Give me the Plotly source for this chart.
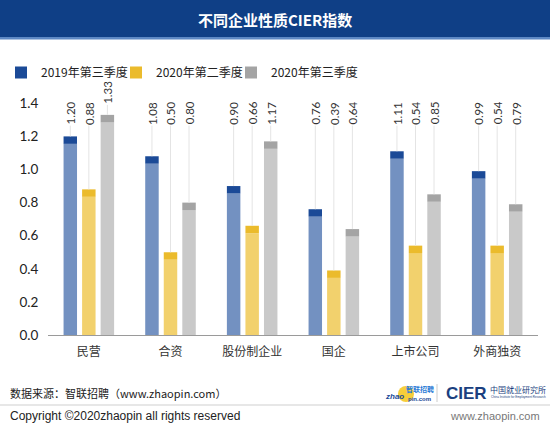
import plotly.graph_objects as go

categories = ["民营", "合资", "股份制企业", "国企", "上市公司", "外商独资"]
series_names = ["2019年第三季度", "2020年第二季度", "2020年第三季度"]
v2019q3 = [1.20, 1.08, 0.90, 0.76, 1.11, 0.99]
v2020q2 = [0.88, 0.50, 0.66, 0.39, 0.54, 0.54]
v2020q3 = [1.33, 0.80, 1.17, 0.64, 0.85, 0.79]
y_ticks = [0.0, 0.2, 0.4, 0.6, 0.8, 1.0, 1.2, 1.4]

series_values = [v2019q3, v2020q2, v2020q3]
dark_colors = ["#1b4a97", "#ebbb2c", "#a4a4a4"]
light_colors = ["#7391c1", "#f2d16d", "#c9c9c9"]
offsets = [-0.227, 0.0, 0.227]
bar_w = 0.165
cap = 0.045

FONT = "Lato, 'Noto Sans CJK SC', sans-serif"
CJK = "'Noto Sans CJK SC', sans-serif"
ARIAL = "'Liberation Sans', Arial, sans-serif"

W, H = 550, 431
PL, PR, PT, PB = 48, 538, 83, 335
PX_PER_UNIT = 165.5
YMAX = (PB - PT) / PX_PER_UNIT


def py(p):
    return 1 - (p - PT) / (PB - PT)


def px(p):
    return (p - PL) / (PR - PL)


fig = go.Figure()
annotations = []
xs_idx = list(range(len(categories)))

for s, vals in enumerate(series_values):
    xs = [i + offsets[s] for i in xs_idx]
    fig.add_trace(go.Bar(x=xs, y=[v - cap for v in vals], width=bar_w,
                         marker=dict(color=light_colors[s], line=dict(width=0)),
                         showlegend=False, hoverinfo="skip"))
    fig.add_trace(go.Bar(x=xs, y=[cap] * len(vals), base=[v - cap for v in vals],
                         width=bar_w, name=series_names[s],
                         marker=dict(color=dark_colors[s], line=dict(width=0)),
                         showlegend=True))
    lx, ly = [], []
    for x, v in zip(xs, vals):
        ytxt = max(1.265, v + 0.06)
        lx += [x, x, None]
        ly += [v, ytxt, None]
        annotations.append(dict(x=x, y=ytxt, xref="x", yref="y", text=f"{v:.2f}",
                                textangle=-90, showarrow=False, xanchor="center",
                                yanchor="bottom", borderpad=0,
                                font=dict(family=FONT, size=11.5, color="#333")))
    fig.add_trace(go.Scatter(x=lx, y=ly, mode="lines", line=dict(color="#e4e4e4", width=1),
                             showlegend=False, hoverinfo="skip"))

# invisible spacer entry so the last legend text is not clipped
fig.add_trace(go.Bar(x=[None], y=[None], name=" ",
                     marker=dict(color="rgba(255,255,255,0)",
                                 line=dict(width=0, color="rgba(255,255,255,0)")),
                     showlegend=True, hoverinfo="skip"))

extra = [
    dict(x=px(275), y=py(19), text="<b>不同企业性质CIER指数</b>", xanchor="center",
         font=dict(family=CJK, size=15, color="white")),
    dict(x=px(8), y=py(393), text="数据来源：智联招聘（www.zhaopin.com）",
         font=dict(family=CJK, size=11, color="#222")),
    dict(x=px(8), y=py(416), text="Copyright ©2020zhaopin all rights reserved",
         font=dict(family=ARIAL, size=12, color="#222")),
    dict(x=px(542), y=py(416), text="www.zhaopin.com", xanchor="right",
         font=dict(family=ARIAL, size=11, color="#777")),
    dict(x=px(383), y=py(396), text="<i><b>zhao</b></i>",
         font=dict(family=ARIAL, size=8, color="#1b4a97")),
    dict(x=px(404), y=py(389), text="<b>智联招聘</b>",
         font=dict(family=CJK, size=7, color="#2a7ad5")),
    dict(x=px(406), y=py(398.5), text="<b>pin.com</b>",
         font=dict(family=ARIAL, size=6, color="#1b4a97")),
    dict(x=px(444), y=py(393), text="<b>CIER</b>",
         font=dict(family=ARIAL, size=17, color="#1b3f80")),
    dict(x=px(488), y=py(389), text="中国就业研究所",
         font=dict(family=CJK, size=8, color="#1b3f80")),
    dict(x=px(489), y=py(397), text="China Institute for Employment Research",
         font=dict(family=ARIAL, size=3, color="#1b3f80")),
]
for e in extra:
    e.setdefault("xanchor", "left")
    e.update(xref="paper", yref="paper", showarrow=False, yanchor="middle")
    annotations.append(e)

shapes = [
    dict(type="rect", xref="paper", yref="paper", x0=px(0), x1=px(W),
         y0=py(0), y1=py(37), fillcolor="#0f3f86", line=dict(width=0), layer="below"),
    dict(type="rect", xref="paper", yref="paper", x0=px(0), x1=px(W),
         y0=py(37), y1=py(39.5), fillcolor="#5d88c4", line=dict(width=0), layer="below"),
    dict(type="line", xref="paper", yref="paper", x0=px(0), x1=px(W),
         y0=py(405), y1=py(405), line=dict(color="#cfcfcf", width=1)),
    dict(type="line", xref="paper", yref="paper", x0=px(437), x1=px(437),
         y0=py(384), y1=py(402), line=dict(color="#cccccc", width=1)),
    dict(type="circle", xref="paper", yref="paper", x0=px(398), x1=px(414),
         y0=py(386), y1=py(402), fillcolor="#f5c518", line=dict(width=0),
         opacity=0.85, layer="below"),
]

fig.update_layout(
    width=W, height=H,
    margin=dict(l=PL, r=W - PR, t=PT, b=H - PB, pad=0, autoexpand=False),
    paper_bgcolor="white", plot_bgcolor="white",
    barmode="overlay",
    shapes=shapes,
    annotations=annotations,
    showlegend=True,
    legend=dict(orientation="h", x=px(1), y=py(58), xanchor="left", yanchor="top",
                entrywidth=70, entrywidthmode="pixels", itemclick=False,
                font=dict(family=CJK, size=12, color="#222"), traceorder="normal",
                bgcolor="rgba(0,0,0,0)", tracegroupgap=0, itemwidth=30),
    xaxis=dict(range=[-0.5, 5.5], tickmode="array", tickvals=xs_idx, ticktext=categories,
               showgrid=False, zeroline=False, showline=True, linecolor="#9a9a9a", linewidth=1,
               ticks="outside", ticklen=6, tickcolor="rgba(0,0,0,0)",
               tickfont=dict(family=CJK, size=12, color="#333"), fixedrange=True),
    yaxis=dict(range=[0, YMAX], tickmode="array", tickvals=y_ticks,
               ticktext=[f"{t:.1f}" for t in y_ticks], showgrid=False, zeroline=False,
               showline=False, ticks="outside", ticklen=6, tickcolor="rgba(0,0,0,0)",
               tickfont=dict(family=FONT, size=13.5, color="#222"), fixedrange=True),
)

fig.write_html("out.html", config={"displayModeBar": False},
               post_script="document.body.style.margin='0';")
